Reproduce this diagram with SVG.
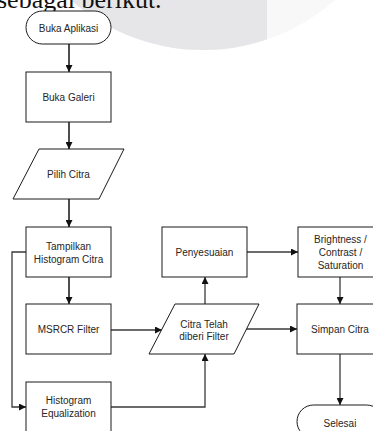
<svg xmlns="http://www.w3.org/2000/svg" width="373" height="431" viewBox="0 0 373 431">
<defs>
<style>
.node{fill:#fff;stroke:#1a1a1a;stroke-width:1}
.t{font-family:"Liberation Sans",Arial,sans-serif;font-size:10px;fill:#262626;text-anchor:middle}
.c{fill:none;stroke:#3a3a3a;stroke-width:1.3}
.cb{fill:none;stroke:#3a3a3a;stroke-width:1.8}
</style>
<marker id="arr" viewBox="0 0 10 10" refX="10" refY="5" markerWidth="7" markerHeight="7" markerUnits="userSpaceOnUse" orient="auto">
<path d="M0,0 L10,5 L0,10 z" fill="#111"/>
</marker>
<clipPath id="lc"><rect x="0" y="0" width="267" height="60"/></clipPath>
</defs>
<rect width="373" height="431" fill="#fff"/>
<g id="background">
<circle cx="203" cy="-150" r="200" fill="#f8f8f8"/>
<circle cx="203" cy="-150" r="200" fill="#e6e6e9" clip-path="url(#lc)"/>
<text x="-3" y="8" font-family="'Liberation Serif','Times New Roman',serif" font-size="26" fill="#111">sebagai berikut.</text>
</g>
<g id="connectors">
<path class="cb" d="M69,44 V72" marker-end="url(#arr)"/>
<path class="cb" d="M69,122 V149" marker-end="url(#arr)"/>
<path class="cb" d="M69,199 V227" marker-end="url(#arr)"/>
<path class="cb" d="M69,277 V304" marker-end="url(#arr)"/>
<path class="c" d="M111,330 H162" marker-end="url(#arr)"/>
<path class="c" d="M26,252 H12 V407 H26" marker-end="url(#arr)"/>
<path class="c" d="M111,407 H205 V354" marker-end="url(#arr)"/>
<path class="c" d="M205,304 V277" marker-end="url(#arr)"/>
<path class="c" d="M247,252 H298" marker-end="url(#arr)"/>
<path class="c" d="M340,277 V304" marker-end="url(#arr)"/>
<path class="c" d="M246,329 H297" marker-end="url(#arr)"/>
<path class="c" d="M340,354 V405" marker-end="url(#arr)"/>
</g>
<g id="buka-aplikasi">
<rect class="node" x="26" y="11" width="85" height="33" rx="16.5"/>
<text class="t" x="68.5" y="31.5">Buka Aplikasi</text>
</g>
<g id="buka-galeri">
<rect class="node" x="26" y="72" width="85" height="50"/>
<text class="t" x="68.5" y="100.5">Buka Galeri</text>
</g>
<g id="pilih-citra">
<polygon class="node" points="39,149 124,149 99,199 13,199"/>
<text class="t" x="68.5" y="177.5">Pilih Citra</text>
</g>
<g id="tampilkan-histogram">
<rect class="node" x="26" y="227" width="85" height="50"/>
<text class="t" x="68.5" y="249.5">Tampilkan</text>
<text class="t" x="68.5" y="262.5">Histogram Citra</text>
</g>
<g id="msrcr-filter">
<rect class="node" x="26" y="304" width="85" height="50"/>
<text class="t" x="68.5" y="332.5">MSRCR Filter</text>
</g>
<g id="histogram-equalization">
<rect class="node" x="26" y="382" width="85" height="50"/>
<text class="t" x="68.5" y="403.5">Histogram</text>
<text class="t" x="68.5" y="416.5">Equalization</text>
</g>
<g id="citra-telah-diberi-filter">
<polygon class="node" points="175,304 259,304 234,354 149,354"/>
<text class="t" x="204" y="327.5">Citra Telah</text>
<text class="t" x="204" y="340">diberi Filter</text>
</g>
<g id="penyesuaian">
<rect class="node" x="162" y="227" width="85" height="50"/>
<text class="t" x="204.5" y="255.5">Penyesuaian</text>
</g>
<g id="brightness-contrast-saturation">
<rect class="node" x="298" y="227" width="85" height="50"/>
<text class="t" x="340.5" y="242.5">Brightness /</text>
<text class="t" x="340.5" y="255.5">Contrast /</text>
<text class="t" x="340.5" y="268.5">Saturation</text>
</g>
<g id="simpan-citra">
<rect class="node" x="297" y="304" width="86" height="50"/>
<text class="t" x="340" y="332.5">Simpan Citra</text>
</g>
<g id="selesai">
<rect class="node" x="297" y="405" width="86" height="33" rx="16.5"/>
<text class="t" x="340" y="426.5">Selesai</text>
</g>
</svg>
